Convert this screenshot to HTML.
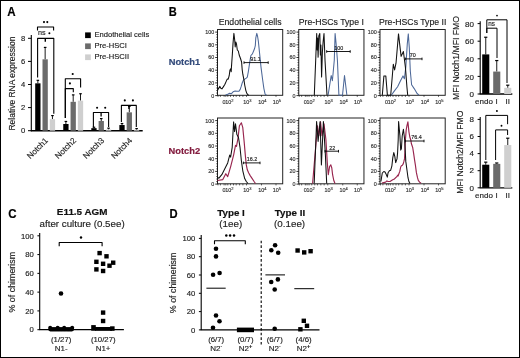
<!DOCTYPE html>
<html><head><meta charset="utf-8"><style>
html,body{margin:0;padding:0;background:#fff;}
#f{position:relative;width:520px;height:358px;overflow:hidden;background:#fff;}
#f svg{position:absolute;left:0;top:0;will-change:transform;}
#f svg text{font-family:"Liberation Sans", sans-serif;}
#bd{position:absolute;left:0;top:0;width:520px;height:358px;box-sizing:border-box;border:1px solid #000;}
</style></head><body><div id="f">
<svg width="520" height="358" viewBox="0 0 520 358">
<text x="0.00" y="0.00" font-size="12.2" text-anchor="start" font-weight="bold" fill="#000" stroke="#000" stroke-width="0.18" transform="translate(7.2,15.6) scale(0.95,1)">A</text>
<text x="0.00" y="0.00" font-size="12.2" text-anchor="start" font-weight="bold" fill="#000" stroke="#000" stroke-width="0.18" transform="translate(168.7,15.7) scale(0.91,1)">B</text>
<text x="0.00" y="0.00" font-size="12.8" text-anchor="start" font-weight="bold" fill="#000" stroke="#000" stroke-width="0.18" transform="translate(8.3,217.7) scale(0.9,1)">C</text>
<text x="0.00" y="0.00" font-size="12.2" text-anchor="start" font-weight="bold" fill="#000" stroke="#000" stroke-width="0.18" transform="translate(169.6,218) scale(0.92,1)">D</text>
<line x1="31.30" y1="35.00" x2="31.30" y2="131.30" stroke="#000" stroke-width="1.1" />
<line x1="28.00" y1="130.70" x2="31.30" y2="130.70" stroke="#000" stroke-width="1" />
<text x="25.20" y="133.40" font-size="7.6" text-anchor="end" font-weight="normal" fill="#222" stroke="#222" stroke-width="0.15" >0</text>
<line x1="28.00" y1="107.60" x2="31.30" y2="107.60" stroke="#000" stroke-width="1" />
<text x="25.20" y="110.30" font-size="7.6" text-anchor="end" font-weight="normal" fill="#222" stroke="#222" stroke-width="0.15" >2</text>
<line x1="28.00" y1="84.50" x2="31.30" y2="84.50" stroke="#000" stroke-width="1" />
<text x="25.20" y="87.20" font-size="7.6" text-anchor="end" font-weight="normal" fill="#222" stroke="#222" stroke-width="0.15" >4</text>
<line x1="28.00" y1="61.40" x2="31.30" y2="61.40" stroke="#000" stroke-width="1" />
<text x="25.20" y="64.10" font-size="7.6" text-anchor="end" font-weight="normal" fill="#222" stroke="#222" stroke-width="0.15" >6</text>
<line x1="28.00" y1="38.30" x2="31.30" y2="38.30" stroke="#000" stroke-width="1" />
<text x="25.20" y="41.00" font-size="7.6" text-anchor="end" font-weight="normal" fill="#222" stroke="#222" stroke-width="0.15" >8</text>
<line x1="30.80" y1="130.70" x2="142.70" y2="130.70" stroke="#000" stroke-width="1.4" />
<text x="0.00" y="0.00" font-size="8.5" text-anchor="middle" font-weight="normal" fill="#222" stroke="#222" stroke-width="0.15" transform="translate(14.6,83.6) rotate(-90)">Relative RNA expression</text>
<line x1="37.85" y1="80.34" x2="37.85" y2="83.34" stroke="#000" stroke-width="0.9" />
<line x1="36.55" y1="80.34" x2="39.15" y2="80.34" stroke="#000" stroke-width="1.2" />
<rect x="35.20" y="83.34" width="5.30" height="47.35" fill="#000" />
<line x1="45.15" y1="47.42" x2="45.15" y2="59.32" stroke="#000" stroke-width="0.9" />
<line x1="43.85" y1="47.42" x2="46.45" y2="47.42" stroke="#000" stroke-width="1.2" />
<rect x="42.50" y="59.32" width="5.30" height="71.38" fill="#6b6b6b" />
<line x1="52.45" y1="115.57" x2="52.45" y2="119.15" stroke="#000" stroke-width="0.9" />
<line x1="51.15" y1="115.57" x2="53.75" y2="115.57" stroke="#000" stroke-width="1.2" />
<rect x="49.80" y="119.15" width="5.30" height="11.55" fill="#cfcfcf" />
<text x="0.00" y="0.00" font-size="8.2" text-anchor="end" font-weight="normal" fill="#222" stroke="#222" stroke-width="0.15" transform="translate(48.60,141) rotate(-45)">Notch1</text>
<line x1="65.90" y1="121.46" x2="65.90" y2="124.00" stroke="#000" stroke-width="0.9" />
<line x1="64.60" y1="121.46" x2="67.20" y2="121.46" stroke="#000" stroke-width="1.2" />
<rect x="63.25" y="124.00" width="5.30" height="6.70" fill="#000" />
<line x1="73.20" y1="94.89" x2="73.20" y2="101.82" stroke="#000" stroke-width="0.9" />
<line x1="71.90" y1="94.89" x2="74.50" y2="94.89" stroke="#000" stroke-width="1.2" />
<rect x="70.55" y="101.82" width="5.30" height="28.88" fill="#6b6b6b" />
<line x1="80.50" y1="93.74" x2="80.50" y2="100.67" stroke="#000" stroke-width="0.9" />
<line x1="79.20" y1="93.74" x2="81.80" y2="93.74" stroke="#000" stroke-width="1.2" />
<rect x="77.85" y="100.67" width="5.30" height="30.03" fill="#cfcfcf" />
<text x="0.00" y="0.00" font-size="8.2" text-anchor="end" font-weight="normal" fill="#222" stroke="#222" stroke-width="0.15" transform="translate(76.65,141) rotate(-45)">Notch2</text>
<line x1="93.95" y1="127.23" x2="93.95" y2="128.16" stroke="#000" stroke-width="0.9" />
<line x1="92.65" y1="127.23" x2="95.25" y2="127.23" stroke="#000" stroke-width="1.2" />
<rect x="91.30" y="128.16" width="5.30" height="2.54" fill="#000" />
<line x1="101.25" y1="118.57" x2="101.25" y2="121.00" stroke="#000" stroke-width="0.9" />
<line x1="99.95" y1="118.57" x2="102.55" y2="118.57" stroke="#000" stroke-width="1.2" />
<rect x="98.60" y="121.00" width="5.30" height="9.70" fill="#6b6b6b" />
<line x1="108.55" y1="128.16" x2="108.55" y2="129.54" stroke="#000" stroke-width="0.9" />
<line x1="107.25" y1="128.16" x2="109.85" y2="128.16" stroke="#000" stroke-width="1.2" />
<rect x="105.90" y="129.54" width="5.30" height="1.16" fill="#cfcfcf" />
<text x="0.00" y="0.00" font-size="8.2" text-anchor="end" font-weight="normal" fill="#222" stroke="#222" stroke-width="0.15" transform="translate(104.70,141) rotate(-45)">Notch3</text>
<line x1="122.00" y1="123.54" x2="122.00" y2="125.04" stroke="#000" stroke-width="0.9" />
<line x1="120.70" y1="123.54" x2="123.30" y2="123.54" stroke="#000" stroke-width="1.2" />
<rect x="119.35" y="125.04" width="5.30" height="5.66" fill="#000" />
<line x1="129.30" y1="106.44" x2="129.30" y2="112.34" stroke="#000" stroke-width="0.9" />
<line x1="128.00" y1="106.44" x2="130.60" y2="106.44" stroke="#000" stroke-width="1.2" />
<rect x="126.65" y="112.34" width="5.30" height="18.36" fill="#6b6b6b" />
<line x1="136.60" y1="128.62" x2="136.60" y2="129.78" stroke="#000" stroke-width="0.9" />
<line x1="135.30" y1="128.62" x2="137.90" y2="128.62" stroke="#000" stroke-width="1.2" />
<rect x="133.95" y="129.78" width="5.30" height="0.92" fill="#cfcfcf" />
<text x="0.00" y="0.00" font-size="8.2" text-anchor="end" font-weight="normal" fill="#222" stroke="#222" stroke-width="0.15" transform="translate(132.75,141) rotate(-45)">Notch4</text>
<polyline points="37.50,30.50 37.50,27.00 53.60,27.00 53.60,30.50" fill="none" stroke="#000" stroke-width="1.1" stroke-linejoin="round" />
<circle cx="44.00" cy="22.10" r="1.05" fill="#000"/>
<circle cx="47.30" cy="22.10" r="1.05" fill="#000"/>
<polyline points="37.60,77.50 37.60,38.40 53.80,38.40 53.80,113.70" fill="none" stroke="#000" stroke-width="1.1" stroke-linejoin="round" />
<line x1="45.30" y1="38.40" x2="45.30" y2="41.80" stroke="#000" stroke-width="1.4" />
<text x="38.00" y="34.60" font-size="7.2" text-anchor="start" font-weight="normal" fill="#222" stroke="#222" stroke-width="0.15" >ns</text>
<circle cx="49.40" cy="33.30" r="1.0" fill="#000"/>
<polyline points="65.30,118.00 65.30,78.80 80.60,78.80 80.60,87.60" fill="none" stroke="#000" stroke-width="1.1" stroke-linejoin="round" />
<circle cx="72.70" cy="74.00" r="1.05" fill="#000"/>
<polyline points="65.30,118.00 65.30,88.60 73.30,88.60 73.30,92.20" fill="none" stroke="#000" stroke-width="1.1" stroke-linejoin="round" />
<circle cx="69.90" cy="83.40" r="1.05" fill="#000"/>
<polyline points="93.40,127.00 93.40,112.50 108.60,112.50 108.60,127.00" fill="none" stroke="#000" stroke-width="1.1" stroke-linejoin="round" />
<line x1="101.10" y1="112.50" x2="101.10" y2="116.50" stroke="#000" stroke-width="1.3" />
<circle cx="97.10" cy="107.70" r="1.05" fill="#000"/>
<circle cx="105.20" cy="107.70" r="1.05" fill="#000"/>
<polyline points="121.40,122.00 121.40,105.40 136.30,105.40 136.30,127.00" fill="none" stroke="#000" stroke-width="1.1" stroke-linejoin="round" />
<line x1="128.90" y1="105.40" x2="128.90" y2="109.00" stroke="#000" stroke-width="1.3" />
<circle cx="124.80" cy="100.40" r="1.05" fill="#000"/>
<circle cx="132.90" cy="100.40" r="1.05" fill="#000"/>
<rect x="85.10" y="32.40" width="5.70" height="5.70" fill="#000" />
<text x="94.40" y="37.40" font-size="7.6" text-anchor="start" font-weight="normal" fill="#222" stroke="#222" stroke-width="0.15" >Endothelial cells</text>
<rect x="85.10" y="43.40" width="5.70" height="5.70" fill="#6b6b6b" />
<text x="94.40" y="48.40" font-size="7.6" text-anchor="start" font-weight="normal" fill="#222" stroke="#222" stroke-width="0.15" >Pre-HSCI</text>
<rect x="85.10" y="54.40" width="5.70" height="5.70" fill="#cfcfcf" />
<text x="94.40" y="59.40" font-size="7.6" text-anchor="start" font-weight="normal" fill="#222" stroke="#222" stroke-width="0.15" >Pre-HSCII</text>
<text x="168.70" y="65.20" font-size="9.3" text-anchor="start" font-weight="bold" fill="#31497a" stroke="#31497a" stroke-width="0.18" >Notch1</text>
<text x="168.60" y="153.80" font-size="9.3" text-anchor="start" font-weight="bold" fill="#821b3e" stroke="#821b3e" stroke-width="0.18" >Notch2</text>
<text x="250.10" y="25.00" font-size="8.7" text-anchor="middle" font-weight="normal" fill="#222" stroke="#222" stroke-width="0.15" >Endothelial cells</text>
<text x="331.35" y="25.00" font-size="8.7" text-anchor="middle" font-weight="normal" fill="#222" stroke="#222" stroke-width="0.15" >Pre-HSCs Type I</text>
<text x="412.60" y="25.00" font-size="8.7" text-anchor="middle" font-weight="normal" fill="#222" stroke="#222" stroke-width="0.15" >Pre-HSCs Type II</text>
<rect x="217.50" y="29.50" width="65.2" height="65.8" fill="none" stroke="#222" stroke-width="1"/>
<line x1="215.20" y1="32.10" x2="217.50" y2="32.10" stroke="#000" stroke-width="0.8" />
<text x="214.30" y="34.00" font-size="5.4" text-anchor="end" font-weight="normal" fill="#333" stroke="#333" stroke-width="0.15" >100</text>
<line x1="216.20" y1="34.64" x2="217.50" y2="34.64" stroke="#000" stroke-width="0.6" />
<line x1="216.20" y1="37.18" x2="217.50" y2="37.18" stroke="#000" stroke-width="0.6" />
<line x1="216.20" y1="39.72" x2="217.50" y2="39.72" stroke="#000" stroke-width="0.6" />
<line x1="216.20" y1="42.26" x2="217.50" y2="42.26" stroke="#000" stroke-width="0.6" />
<line x1="215.20" y1="44.80" x2="217.50" y2="44.80" stroke="#000" stroke-width="0.8" />
<text x="214.30" y="46.70" font-size="5.4" text-anchor="end" font-weight="normal" fill="#333" stroke="#333" stroke-width="0.15" >80</text>
<line x1="216.20" y1="47.34" x2="217.50" y2="47.34" stroke="#000" stroke-width="0.6" />
<line x1="216.20" y1="49.88" x2="217.50" y2="49.88" stroke="#000" stroke-width="0.6" />
<line x1="216.20" y1="52.42" x2="217.50" y2="52.42" stroke="#000" stroke-width="0.6" />
<line x1="216.20" y1="54.96" x2="217.50" y2="54.96" stroke="#000" stroke-width="0.6" />
<line x1="215.20" y1="57.50" x2="217.50" y2="57.50" stroke="#000" stroke-width="0.8" />
<text x="214.30" y="59.40" font-size="5.4" text-anchor="end" font-weight="normal" fill="#333" stroke="#333" stroke-width="0.15" >60</text>
<line x1="216.20" y1="60.04" x2="217.50" y2="60.04" stroke="#000" stroke-width="0.6" />
<line x1="216.20" y1="62.58" x2="217.50" y2="62.58" stroke="#000" stroke-width="0.6" />
<line x1="216.20" y1="65.12" x2="217.50" y2="65.12" stroke="#000" stroke-width="0.6" />
<line x1="216.20" y1="67.66" x2="217.50" y2="67.66" stroke="#000" stroke-width="0.6" />
<line x1="215.20" y1="70.20" x2="217.50" y2="70.20" stroke="#000" stroke-width="0.8" />
<text x="214.30" y="72.10" font-size="5.4" text-anchor="end" font-weight="normal" fill="#333" stroke="#333" stroke-width="0.15" >40</text>
<line x1="216.20" y1="72.74" x2="217.50" y2="72.74" stroke="#000" stroke-width="0.6" />
<line x1="216.20" y1="75.28" x2="217.50" y2="75.28" stroke="#000" stroke-width="0.6" />
<line x1="216.20" y1="77.82" x2="217.50" y2="77.82" stroke="#000" stroke-width="0.6" />
<line x1="216.20" y1="80.36" x2="217.50" y2="80.36" stroke="#000" stroke-width="0.6" />
<line x1="215.20" y1="82.90" x2="217.50" y2="82.90" stroke="#000" stroke-width="0.8" />
<text x="214.30" y="84.80" font-size="5.4" text-anchor="end" font-weight="normal" fill="#333" stroke="#333" stroke-width="0.15" >20</text>
<line x1="216.20" y1="85.44" x2="217.50" y2="85.44" stroke="#000" stroke-width="0.6" />
<line x1="216.20" y1="87.98" x2="217.50" y2="87.98" stroke="#000" stroke-width="0.6" />
<line x1="216.20" y1="90.52" x2="217.50" y2="90.52" stroke="#000" stroke-width="0.6" />
<line x1="216.20" y1="93.06" x2="217.50" y2="93.06" stroke="#000" stroke-width="0.6" />
<line x1="215.20" y1="95.60" x2="217.50" y2="95.60" stroke="#000" stroke-width="0.8" />
<text x="214.30" y="97.50" font-size="5.4" text-anchor="end" font-weight="normal" fill="#333" stroke="#333" stroke-width="0.15" >0</text>
<line x1="218.00" y1="95.30" x2="218.00" y2="96.90" stroke="#000" stroke-width="0.6" />
<line x1="220.40" y1="95.30" x2="220.40" y2="96.90" stroke="#000" stroke-width="0.6" />
<line x1="224.10" y1="95.30" x2="224.10" y2="96.90" stroke="#000" stroke-width="0.6" />
<line x1="225.80" y1="95.30" x2="225.80" y2="96.90" stroke="#000" stroke-width="0.6" />
<line x1="227.80" y1="95.30" x2="227.80" y2="96.90" stroke="#000" stroke-width="0.6" />
<line x1="230.50" y1="95.30" x2="230.50" y2="96.90" stroke="#000" stroke-width="0.6" />
<line x1="233.50" y1="95.30" x2="233.50" y2="96.90" stroke="#000" stroke-width="0.6" />
<line x1="236.20" y1="95.30" x2="236.20" y2="96.90" stroke="#000" stroke-width="0.6" />
<line x1="239.60" y1="95.30" x2="239.60" y2="96.90" stroke="#000" stroke-width="0.6" />
<line x1="242.90" y1="95.30" x2="242.90" y2="96.90" stroke="#000" stroke-width="0.6" />
<line x1="246.50" y1="95.30" x2="246.50" y2="96.90" stroke="#000" stroke-width="0.6" />
<line x1="261.50" y1="95.30" x2="261.50" y2="96.90" stroke="#000" stroke-width="0.6" />
<line x1="276.00" y1="95.30" x2="276.00" y2="96.90" stroke="#000" stroke-width="0.6" />
<text x="224.10" y="103.90" font-size="5.4" text-anchor="middle" font-weight="normal" fill="#333" stroke="#333" stroke-width="0.15" >0</text>
<text x="229.30" y="103.90" font-size="5.4" text-anchor="middle" font-weight="normal" fill="#333" stroke="#333" stroke-width="0.15" >10<tspan dy="-2.1" font-size="4">2</tspan></text>
<text x="247.30" y="103.90" font-size="5.4" text-anchor="middle" font-weight="normal" fill="#333" stroke="#333" stroke-width="0.15" >10<tspan dy="-2.1" font-size="4">3</tspan></text>
<text x="262.30" y="103.90" font-size="5.4" text-anchor="middle" font-weight="normal" fill="#333" stroke="#333" stroke-width="0.15" >10<tspan dy="-2.1" font-size="4">4</tspan></text>
<text x="276.80" y="103.90" font-size="5.4" text-anchor="middle" font-weight="normal" fill="#333" stroke="#333" stroke-width="0.15" >10<tspan dy="-2.1" font-size="4">5</tspan></text>
<rect x="298.75" y="29.50" width="65.2" height="65.8" fill="none" stroke="#222" stroke-width="1"/>
<line x1="296.45" y1="32.10" x2="298.75" y2="32.10" stroke="#000" stroke-width="0.8" />
<text x="295.55" y="34.00" font-size="5.4" text-anchor="end" font-weight="normal" fill="#333" stroke="#333" stroke-width="0.15" >100</text>
<line x1="297.45" y1="34.64" x2="298.75" y2="34.64" stroke="#000" stroke-width="0.6" />
<line x1="297.45" y1="37.18" x2="298.75" y2="37.18" stroke="#000" stroke-width="0.6" />
<line x1="297.45" y1="39.72" x2="298.75" y2="39.72" stroke="#000" stroke-width="0.6" />
<line x1="297.45" y1="42.26" x2="298.75" y2="42.26" stroke="#000" stroke-width="0.6" />
<line x1="296.45" y1="44.80" x2="298.75" y2="44.80" stroke="#000" stroke-width="0.8" />
<text x="295.55" y="46.70" font-size="5.4" text-anchor="end" font-weight="normal" fill="#333" stroke="#333" stroke-width="0.15" >80</text>
<line x1="297.45" y1="47.34" x2="298.75" y2="47.34" stroke="#000" stroke-width="0.6" />
<line x1="297.45" y1="49.88" x2="298.75" y2="49.88" stroke="#000" stroke-width="0.6" />
<line x1="297.45" y1="52.42" x2="298.75" y2="52.42" stroke="#000" stroke-width="0.6" />
<line x1="297.45" y1="54.96" x2="298.75" y2="54.96" stroke="#000" stroke-width="0.6" />
<line x1="296.45" y1="57.50" x2="298.75" y2="57.50" stroke="#000" stroke-width="0.8" />
<text x="295.55" y="59.40" font-size="5.4" text-anchor="end" font-weight="normal" fill="#333" stroke="#333" stroke-width="0.15" >60</text>
<line x1="297.45" y1="60.04" x2="298.75" y2="60.04" stroke="#000" stroke-width="0.6" />
<line x1="297.45" y1="62.58" x2="298.75" y2="62.58" stroke="#000" stroke-width="0.6" />
<line x1="297.45" y1="65.12" x2="298.75" y2="65.12" stroke="#000" stroke-width="0.6" />
<line x1="297.45" y1="67.66" x2="298.75" y2="67.66" stroke="#000" stroke-width="0.6" />
<line x1="296.45" y1="70.20" x2="298.75" y2="70.20" stroke="#000" stroke-width="0.8" />
<text x="295.55" y="72.10" font-size="5.4" text-anchor="end" font-weight="normal" fill="#333" stroke="#333" stroke-width="0.15" >40</text>
<line x1="297.45" y1="72.74" x2="298.75" y2="72.74" stroke="#000" stroke-width="0.6" />
<line x1="297.45" y1="75.28" x2="298.75" y2="75.28" stroke="#000" stroke-width="0.6" />
<line x1="297.45" y1="77.82" x2="298.75" y2="77.82" stroke="#000" stroke-width="0.6" />
<line x1="297.45" y1="80.36" x2="298.75" y2="80.36" stroke="#000" stroke-width="0.6" />
<line x1="296.45" y1="82.90" x2="298.75" y2="82.90" stroke="#000" stroke-width="0.8" />
<text x="295.55" y="84.80" font-size="5.4" text-anchor="end" font-weight="normal" fill="#333" stroke="#333" stroke-width="0.15" >20</text>
<line x1="297.45" y1="85.44" x2="298.75" y2="85.44" stroke="#000" stroke-width="0.6" />
<line x1="297.45" y1="87.98" x2="298.75" y2="87.98" stroke="#000" stroke-width="0.6" />
<line x1="297.45" y1="90.52" x2="298.75" y2="90.52" stroke="#000" stroke-width="0.6" />
<line x1="297.45" y1="93.06" x2="298.75" y2="93.06" stroke="#000" stroke-width="0.6" />
<line x1="296.45" y1="95.60" x2="298.75" y2="95.60" stroke="#000" stroke-width="0.8" />
<text x="295.55" y="97.50" font-size="5.4" text-anchor="end" font-weight="normal" fill="#333" stroke="#333" stroke-width="0.15" >0</text>
<line x1="299.25" y1="95.30" x2="299.25" y2="96.90" stroke="#000" stroke-width="0.6" />
<line x1="301.65" y1="95.30" x2="301.65" y2="96.90" stroke="#000" stroke-width="0.6" />
<line x1="305.35" y1="95.30" x2="305.35" y2="96.90" stroke="#000" stroke-width="0.6" />
<line x1="307.05" y1="95.30" x2="307.05" y2="96.90" stroke="#000" stroke-width="0.6" />
<line x1="309.05" y1="95.30" x2="309.05" y2="96.90" stroke="#000" stroke-width="0.6" />
<line x1="311.75" y1="95.30" x2="311.75" y2="96.90" stroke="#000" stroke-width="0.6" />
<line x1="314.75" y1="95.30" x2="314.75" y2="96.90" stroke="#000" stroke-width="0.6" />
<line x1="317.45" y1="95.30" x2="317.45" y2="96.90" stroke="#000" stroke-width="0.6" />
<line x1="320.85" y1="95.30" x2="320.85" y2="96.90" stroke="#000" stroke-width="0.6" />
<line x1="324.15" y1="95.30" x2="324.15" y2="96.90" stroke="#000" stroke-width="0.6" />
<line x1="327.75" y1="95.30" x2="327.75" y2="96.90" stroke="#000" stroke-width="0.6" />
<line x1="342.75" y1="95.30" x2="342.75" y2="96.90" stroke="#000" stroke-width="0.6" />
<line x1="357.25" y1="95.30" x2="357.25" y2="96.90" stroke="#000" stroke-width="0.6" />
<text x="305.35" y="103.90" font-size="5.4" text-anchor="middle" font-weight="normal" fill="#333" stroke="#333" stroke-width="0.15" >0</text>
<text x="310.55" y="103.90" font-size="5.4" text-anchor="middle" font-weight="normal" fill="#333" stroke="#333" stroke-width="0.15" >10<tspan dy="-2.1" font-size="4">2</tspan></text>
<text x="328.55" y="103.90" font-size="5.4" text-anchor="middle" font-weight="normal" fill="#333" stroke="#333" stroke-width="0.15" >10<tspan dy="-2.1" font-size="4">3</tspan></text>
<text x="343.55" y="103.90" font-size="5.4" text-anchor="middle" font-weight="normal" fill="#333" stroke="#333" stroke-width="0.15" >10<tspan dy="-2.1" font-size="4">4</tspan></text>
<text x="358.05" y="103.90" font-size="5.4" text-anchor="middle" font-weight="normal" fill="#333" stroke="#333" stroke-width="0.15" >10<tspan dy="-2.1" font-size="4">5</tspan></text>
<rect x="380.00" y="29.50" width="65.2" height="65.8" fill="none" stroke="#222" stroke-width="1"/>
<line x1="377.70" y1="32.10" x2="380.00" y2="32.10" stroke="#000" stroke-width="0.8" />
<text x="376.80" y="34.00" font-size="5.4" text-anchor="end" font-weight="normal" fill="#333" stroke="#333" stroke-width="0.15" >100</text>
<line x1="378.70" y1="34.64" x2="380.00" y2="34.64" stroke="#000" stroke-width="0.6" />
<line x1="378.70" y1="37.18" x2="380.00" y2="37.18" stroke="#000" stroke-width="0.6" />
<line x1="378.70" y1="39.72" x2="380.00" y2="39.72" stroke="#000" stroke-width="0.6" />
<line x1="378.70" y1="42.26" x2="380.00" y2="42.26" stroke="#000" stroke-width="0.6" />
<line x1="377.70" y1="44.80" x2="380.00" y2="44.80" stroke="#000" stroke-width="0.8" />
<text x="376.80" y="46.70" font-size="5.4" text-anchor="end" font-weight="normal" fill="#333" stroke="#333" stroke-width="0.15" >80</text>
<line x1="378.70" y1="47.34" x2="380.00" y2="47.34" stroke="#000" stroke-width="0.6" />
<line x1="378.70" y1="49.88" x2="380.00" y2="49.88" stroke="#000" stroke-width="0.6" />
<line x1="378.70" y1="52.42" x2="380.00" y2="52.42" stroke="#000" stroke-width="0.6" />
<line x1="378.70" y1="54.96" x2="380.00" y2="54.96" stroke="#000" stroke-width="0.6" />
<line x1="377.70" y1="57.50" x2="380.00" y2="57.50" stroke="#000" stroke-width="0.8" />
<text x="376.80" y="59.40" font-size="5.4" text-anchor="end" font-weight="normal" fill="#333" stroke="#333" stroke-width="0.15" >60</text>
<line x1="378.70" y1="60.04" x2="380.00" y2="60.04" stroke="#000" stroke-width="0.6" />
<line x1="378.70" y1="62.58" x2="380.00" y2="62.58" stroke="#000" stroke-width="0.6" />
<line x1="378.70" y1="65.12" x2="380.00" y2="65.12" stroke="#000" stroke-width="0.6" />
<line x1="378.70" y1="67.66" x2="380.00" y2="67.66" stroke="#000" stroke-width="0.6" />
<line x1="377.70" y1="70.20" x2="380.00" y2="70.20" stroke="#000" stroke-width="0.8" />
<text x="376.80" y="72.10" font-size="5.4" text-anchor="end" font-weight="normal" fill="#333" stroke="#333" stroke-width="0.15" >40</text>
<line x1="378.70" y1="72.74" x2="380.00" y2="72.74" stroke="#000" stroke-width="0.6" />
<line x1="378.70" y1="75.28" x2="380.00" y2="75.28" stroke="#000" stroke-width="0.6" />
<line x1="378.70" y1="77.82" x2="380.00" y2="77.82" stroke="#000" stroke-width="0.6" />
<line x1="378.70" y1="80.36" x2="380.00" y2="80.36" stroke="#000" stroke-width="0.6" />
<line x1="377.70" y1="82.90" x2="380.00" y2="82.90" stroke="#000" stroke-width="0.8" />
<text x="376.80" y="84.80" font-size="5.4" text-anchor="end" font-weight="normal" fill="#333" stroke="#333" stroke-width="0.15" >20</text>
<line x1="378.70" y1="85.44" x2="380.00" y2="85.44" stroke="#000" stroke-width="0.6" />
<line x1="378.70" y1="87.98" x2="380.00" y2="87.98" stroke="#000" stroke-width="0.6" />
<line x1="378.70" y1="90.52" x2="380.00" y2="90.52" stroke="#000" stroke-width="0.6" />
<line x1="378.70" y1="93.06" x2="380.00" y2="93.06" stroke="#000" stroke-width="0.6" />
<line x1="377.70" y1="95.60" x2="380.00" y2="95.60" stroke="#000" stroke-width="0.8" />
<text x="376.80" y="97.50" font-size="5.4" text-anchor="end" font-weight="normal" fill="#333" stroke="#333" stroke-width="0.15" >0</text>
<line x1="380.50" y1="95.30" x2="380.50" y2="96.90" stroke="#000" stroke-width="0.6" />
<line x1="382.90" y1="95.30" x2="382.90" y2="96.90" stroke="#000" stroke-width="0.6" />
<line x1="386.60" y1="95.30" x2="386.60" y2="96.90" stroke="#000" stroke-width="0.6" />
<line x1="388.30" y1="95.30" x2="388.30" y2="96.90" stroke="#000" stroke-width="0.6" />
<line x1="390.30" y1="95.30" x2="390.30" y2="96.90" stroke="#000" stroke-width="0.6" />
<line x1="393.00" y1="95.30" x2="393.00" y2="96.90" stroke="#000" stroke-width="0.6" />
<line x1="396.00" y1="95.30" x2="396.00" y2="96.90" stroke="#000" stroke-width="0.6" />
<line x1="398.70" y1="95.30" x2="398.70" y2="96.90" stroke="#000" stroke-width="0.6" />
<line x1="402.10" y1="95.30" x2="402.10" y2="96.90" stroke="#000" stroke-width="0.6" />
<line x1="405.40" y1="95.30" x2="405.40" y2="96.90" stroke="#000" stroke-width="0.6" />
<line x1="409.00" y1="95.30" x2="409.00" y2="96.90" stroke="#000" stroke-width="0.6" />
<line x1="424.00" y1="95.30" x2="424.00" y2="96.90" stroke="#000" stroke-width="0.6" />
<line x1="438.50" y1="95.30" x2="438.50" y2="96.90" stroke="#000" stroke-width="0.6" />
<text x="386.60" y="103.90" font-size="5.4" text-anchor="middle" font-weight="normal" fill="#333" stroke="#333" stroke-width="0.15" >0</text>
<text x="391.80" y="103.90" font-size="5.4" text-anchor="middle" font-weight="normal" fill="#333" stroke="#333" stroke-width="0.15" >10<tspan dy="-2.1" font-size="4">2</tspan></text>
<text x="409.80" y="103.90" font-size="5.4" text-anchor="middle" font-weight="normal" fill="#333" stroke="#333" stroke-width="0.15" >10<tspan dy="-2.1" font-size="4">3</tspan></text>
<text x="424.80" y="103.90" font-size="5.4" text-anchor="middle" font-weight="normal" fill="#333" stroke="#333" stroke-width="0.15" >10<tspan dy="-2.1" font-size="4">4</tspan></text>
<text x="439.30" y="103.90" font-size="5.4" text-anchor="middle" font-weight="normal" fill="#333" stroke="#333" stroke-width="0.15" >10<tspan dy="-2.1" font-size="4">5</tspan></text>
<rect x="217.50" y="118.00" width="65.2" height="65.8" fill="none" stroke="#222" stroke-width="1"/>
<line x1="215.20" y1="120.60" x2="217.50" y2="120.60" stroke="#000" stroke-width="0.8" />
<text x="214.30" y="122.50" font-size="5.4" text-anchor="end" font-weight="normal" fill="#333" stroke="#333" stroke-width="0.15" >100</text>
<line x1="216.20" y1="123.14" x2="217.50" y2="123.14" stroke="#000" stroke-width="0.6" />
<line x1="216.20" y1="125.68" x2="217.50" y2="125.68" stroke="#000" stroke-width="0.6" />
<line x1="216.20" y1="128.22" x2="217.50" y2="128.22" stroke="#000" stroke-width="0.6" />
<line x1="216.20" y1="130.76" x2="217.50" y2="130.76" stroke="#000" stroke-width="0.6" />
<line x1="215.20" y1="133.30" x2="217.50" y2="133.30" stroke="#000" stroke-width="0.8" />
<text x="214.30" y="135.20" font-size="5.4" text-anchor="end" font-weight="normal" fill="#333" stroke="#333" stroke-width="0.15" >80</text>
<line x1="216.20" y1="135.84" x2="217.50" y2="135.84" stroke="#000" stroke-width="0.6" />
<line x1="216.20" y1="138.38" x2="217.50" y2="138.38" stroke="#000" stroke-width="0.6" />
<line x1="216.20" y1="140.92" x2="217.50" y2="140.92" stroke="#000" stroke-width="0.6" />
<line x1="216.20" y1="143.46" x2="217.50" y2="143.46" stroke="#000" stroke-width="0.6" />
<line x1="215.20" y1="146.00" x2="217.50" y2="146.00" stroke="#000" stroke-width="0.8" />
<text x="214.30" y="147.90" font-size="5.4" text-anchor="end" font-weight="normal" fill="#333" stroke="#333" stroke-width="0.15" >60</text>
<line x1="216.20" y1="148.54" x2="217.50" y2="148.54" stroke="#000" stroke-width="0.6" />
<line x1="216.20" y1="151.08" x2="217.50" y2="151.08" stroke="#000" stroke-width="0.6" />
<line x1="216.20" y1="153.62" x2="217.50" y2="153.62" stroke="#000" stroke-width="0.6" />
<line x1="216.20" y1="156.16" x2="217.50" y2="156.16" stroke="#000" stroke-width="0.6" />
<line x1="215.20" y1="158.70" x2="217.50" y2="158.70" stroke="#000" stroke-width="0.8" />
<text x="214.30" y="160.60" font-size="5.4" text-anchor="end" font-weight="normal" fill="#333" stroke="#333" stroke-width="0.15" >40</text>
<line x1="216.20" y1="161.24" x2="217.50" y2="161.24" stroke="#000" stroke-width="0.6" />
<line x1="216.20" y1="163.78" x2="217.50" y2="163.78" stroke="#000" stroke-width="0.6" />
<line x1="216.20" y1="166.32" x2="217.50" y2="166.32" stroke="#000" stroke-width="0.6" />
<line x1="216.20" y1="168.86" x2="217.50" y2="168.86" stroke="#000" stroke-width="0.6" />
<line x1="215.20" y1="171.40" x2="217.50" y2="171.40" stroke="#000" stroke-width="0.8" />
<text x="214.30" y="173.30" font-size="5.4" text-anchor="end" font-weight="normal" fill="#333" stroke="#333" stroke-width="0.15" >20</text>
<line x1="216.20" y1="173.94" x2="217.50" y2="173.94" stroke="#000" stroke-width="0.6" />
<line x1="216.20" y1="176.48" x2="217.50" y2="176.48" stroke="#000" stroke-width="0.6" />
<line x1="216.20" y1="179.02" x2="217.50" y2="179.02" stroke="#000" stroke-width="0.6" />
<line x1="216.20" y1="181.56" x2="217.50" y2="181.56" stroke="#000" stroke-width="0.6" />
<line x1="215.20" y1="184.10" x2="217.50" y2="184.10" stroke="#000" stroke-width="0.8" />
<text x="214.30" y="186.00" font-size="5.4" text-anchor="end" font-weight="normal" fill="#333" stroke="#333" stroke-width="0.15" >0</text>
<line x1="218.00" y1="183.80" x2="218.00" y2="185.40" stroke="#000" stroke-width="0.6" />
<line x1="220.40" y1="183.80" x2="220.40" y2="185.40" stroke="#000" stroke-width="0.6" />
<line x1="224.10" y1="183.80" x2="224.10" y2="185.40" stroke="#000" stroke-width="0.6" />
<line x1="225.80" y1="183.80" x2="225.80" y2="185.40" stroke="#000" stroke-width="0.6" />
<line x1="227.80" y1="183.80" x2="227.80" y2="185.40" stroke="#000" stroke-width="0.6" />
<line x1="230.50" y1="183.80" x2="230.50" y2="185.40" stroke="#000" stroke-width="0.6" />
<line x1="233.50" y1="183.80" x2="233.50" y2="185.40" stroke="#000" stroke-width="0.6" />
<line x1="236.20" y1="183.80" x2="236.20" y2="185.40" stroke="#000" stroke-width="0.6" />
<line x1="239.60" y1="183.80" x2="239.60" y2="185.40" stroke="#000" stroke-width="0.6" />
<line x1="242.90" y1="183.80" x2="242.90" y2="185.40" stroke="#000" stroke-width="0.6" />
<line x1="246.50" y1="183.80" x2="246.50" y2="185.40" stroke="#000" stroke-width="0.6" />
<line x1="261.50" y1="183.80" x2="261.50" y2="185.40" stroke="#000" stroke-width="0.6" />
<line x1="276.00" y1="183.80" x2="276.00" y2="185.40" stroke="#000" stroke-width="0.6" />
<text x="224.10" y="192.40" font-size="5.4" text-anchor="middle" font-weight="normal" fill="#333" stroke="#333" stroke-width="0.15" >0</text>
<text x="229.30" y="192.40" font-size="5.4" text-anchor="middle" font-weight="normal" fill="#333" stroke="#333" stroke-width="0.15" >10<tspan dy="-2.1" font-size="4">2</tspan></text>
<text x="247.30" y="192.40" font-size="5.4" text-anchor="middle" font-weight="normal" fill="#333" stroke="#333" stroke-width="0.15" >10<tspan dy="-2.1" font-size="4">3</tspan></text>
<text x="262.30" y="192.40" font-size="5.4" text-anchor="middle" font-weight="normal" fill="#333" stroke="#333" stroke-width="0.15" >10<tspan dy="-2.1" font-size="4">4</tspan></text>
<text x="276.80" y="192.40" font-size="5.4" text-anchor="middle" font-weight="normal" fill="#333" stroke="#333" stroke-width="0.15" >10<tspan dy="-2.1" font-size="4">5</tspan></text>
<rect x="298.75" y="118.00" width="65.2" height="65.8" fill="none" stroke="#222" stroke-width="1"/>
<line x1="296.45" y1="120.60" x2="298.75" y2="120.60" stroke="#000" stroke-width="0.8" />
<text x="295.55" y="122.50" font-size="5.4" text-anchor="end" font-weight="normal" fill="#333" stroke="#333" stroke-width="0.15" >100</text>
<line x1="297.45" y1="123.14" x2="298.75" y2="123.14" stroke="#000" stroke-width="0.6" />
<line x1="297.45" y1="125.68" x2="298.75" y2="125.68" stroke="#000" stroke-width="0.6" />
<line x1="297.45" y1="128.22" x2="298.75" y2="128.22" stroke="#000" stroke-width="0.6" />
<line x1="297.45" y1="130.76" x2="298.75" y2="130.76" stroke="#000" stroke-width="0.6" />
<line x1="296.45" y1="133.30" x2="298.75" y2="133.30" stroke="#000" stroke-width="0.8" />
<text x="295.55" y="135.20" font-size="5.4" text-anchor="end" font-weight="normal" fill="#333" stroke="#333" stroke-width="0.15" >80</text>
<line x1="297.45" y1="135.84" x2="298.75" y2="135.84" stroke="#000" stroke-width="0.6" />
<line x1="297.45" y1="138.38" x2="298.75" y2="138.38" stroke="#000" stroke-width="0.6" />
<line x1="297.45" y1="140.92" x2="298.75" y2="140.92" stroke="#000" stroke-width="0.6" />
<line x1="297.45" y1="143.46" x2="298.75" y2="143.46" stroke="#000" stroke-width="0.6" />
<line x1="296.45" y1="146.00" x2="298.75" y2="146.00" stroke="#000" stroke-width="0.8" />
<text x="295.55" y="147.90" font-size="5.4" text-anchor="end" font-weight="normal" fill="#333" stroke="#333" stroke-width="0.15" >60</text>
<line x1="297.45" y1="148.54" x2="298.75" y2="148.54" stroke="#000" stroke-width="0.6" />
<line x1="297.45" y1="151.08" x2="298.75" y2="151.08" stroke="#000" stroke-width="0.6" />
<line x1="297.45" y1="153.62" x2="298.75" y2="153.62" stroke="#000" stroke-width="0.6" />
<line x1="297.45" y1="156.16" x2="298.75" y2="156.16" stroke="#000" stroke-width="0.6" />
<line x1="296.45" y1="158.70" x2="298.75" y2="158.70" stroke="#000" stroke-width="0.8" />
<text x="295.55" y="160.60" font-size="5.4" text-anchor="end" font-weight="normal" fill="#333" stroke="#333" stroke-width="0.15" >40</text>
<line x1="297.45" y1="161.24" x2="298.75" y2="161.24" stroke="#000" stroke-width="0.6" />
<line x1="297.45" y1="163.78" x2="298.75" y2="163.78" stroke="#000" stroke-width="0.6" />
<line x1="297.45" y1="166.32" x2="298.75" y2="166.32" stroke="#000" stroke-width="0.6" />
<line x1="297.45" y1="168.86" x2="298.75" y2="168.86" stroke="#000" stroke-width="0.6" />
<line x1="296.45" y1="171.40" x2="298.75" y2="171.40" stroke="#000" stroke-width="0.8" />
<text x="295.55" y="173.30" font-size="5.4" text-anchor="end" font-weight="normal" fill="#333" stroke="#333" stroke-width="0.15" >20</text>
<line x1="297.45" y1="173.94" x2="298.75" y2="173.94" stroke="#000" stroke-width="0.6" />
<line x1="297.45" y1="176.48" x2="298.75" y2="176.48" stroke="#000" stroke-width="0.6" />
<line x1="297.45" y1="179.02" x2="298.75" y2="179.02" stroke="#000" stroke-width="0.6" />
<line x1="297.45" y1="181.56" x2="298.75" y2="181.56" stroke="#000" stroke-width="0.6" />
<line x1="296.45" y1="184.10" x2="298.75" y2="184.10" stroke="#000" stroke-width="0.8" />
<text x="295.55" y="186.00" font-size="5.4" text-anchor="end" font-weight="normal" fill="#333" stroke="#333" stroke-width="0.15" >0</text>
<line x1="299.25" y1="183.80" x2="299.25" y2="185.40" stroke="#000" stroke-width="0.6" />
<line x1="301.65" y1="183.80" x2="301.65" y2="185.40" stroke="#000" stroke-width="0.6" />
<line x1="305.35" y1="183.80" x2="305.35" y2="185.40" stroke="#000" stroke-width="0.6" />
<line x1="307.05" y1="183.80" x2="307.05" y2="185.40" stroke="#000" stroke-width="0.6" />
<line x1="309.05" y1="183.80" x2="309.05" y2="185.40" stroke="#000" stroke-width="0.6" />
<line x1="311.75" y1="183.80" x2="311.75" y2="185.40" stroke="#000" stroke-width="0.6" />
<line x1="314.75" y1="183.80" x2="314.75" y2="185.40" stroke="#000" stroke-width="0.6" />
<line x1="317.45" y1="183.80" x2="317.45" y2="185.40" stroke="#000" stroke-width="0.6" />
<line x1="320.85" y1="183.80" x2="320.85" y2="185.40" stroke="#000" stroke-width="0.6" />
<line x1="324.15" y1="183.80" x2="324.15" y2="185.40" stroke="#000" stroke-width="0.6" />
<line x1="327.75" y1="183.80" x2="327.75" y2="185.40" stroke="#000" stroke-width="0.6" />
<line x1="342.75" y1="183.80" x2="342.75" y2="185.40" stroke="#000" stroke-width="0.6" />
<line x1="357.25" y1="183.80" x2="357.25" y2="185.40" stroke="#000" stroke-width="0.6" />
<text x="305.35" y="192.40" font-size="5.4" text-anchor="middle" font-weight="normal" fill="#333" stroke="#333" stroke-width="0.15" >0</text>
<text x="310.55" y="192.40" font-size="5.4" text-anchor="middle" font-weight="normal" fill="#333" stroke="#333" stroke-width="0.15" >10<tspan dy="-2.1" font-size="4">2</tspan></text>
<text x="328.55" y="192.40" font-size="5.4" text-anchor="middle" font-weight="normal" fill="#333" stroke="#333" stroke-width="0.15" >10<tspan dy="-2.1" font-size="4">3</tspan></text>
<text x="343.55" y="192.40" font-size="5.4" text-anchor="middle" font-weight="normal" fill="#333" stroke="#333" stroke-width="0.15" >10<tspan dy="-2.1" font-size="4">4</tspan></text>
<text x="358.05" y="192.40" font-size="5.4" text-anchor="middle" font-weight="normal" fill="#333" stroke="#333" stroke-width="0.15" >10<tspan dy="-2.1" font-size="4">5</tspan></text>
<rect x="380.00" y="118.00" width="65.2" height="65.8" fill="none" stroke="#222" stroke-width="1"/>
<line x1="377.70" y1="120.60" x2="380.00" y2="120.60" stroke="#000" stroke-width="0.8" />
<text x="376.80" y="122.50" font-size="5.4" text-anchor="end" font-weight="normal" fill="#333" stroke="#333" stroke-width="0.15" >100</text>
<line x1="378.70" y1="123.14" x2="380.00" y2="123.14" stroke="#000" stroke-width="0.6" />
<line x1="378.70" y1="125.68" x2="380.00" y2="125.68" stroke="#000" stroke-width="0.6" />
<line x1="378.70" y1="128.22" x2="380.00" y2="128.22" stroke="#000" stroke-width="0.6" />
<line x1="378.70" y1="130.76" x2="380.00" y2="130.76" stroke="#000" stroke-width="0.6" />
<line x1="377.70" y1="133.30" x2="380.00" y2="133.30" stroke="#000" stroke-width="0.8" />
<text x="376.80" y="135.20" font-size="5.4" text-anchor="end" font-weight="normal" fill="#333" stroke="#333" stroke-width="0.15" >80</text>
<line x1="378.70" y1="135.84" x2="380.00" y2="135.84" stroke="#000" stroke-width="0.6" />
<line x1="378.70" y1="138.38" x2="380.00" y2="138.38" stroke="#000" stroke-width="0.6" />
<line x1="378.70" y1="140.92" x2="380.00" y2="140.92" stroke="#000" stroke-width="0.6" />
<line x1="378.70" y1="143.46" x2="380.00" y2="143.46" stroke="#000" stroke-width="0.6" />
<line x1="377.70" y1="146.00" x2="380.00" y2="146.00" stroke="#000" stroke-width="0.8" />
<text x="376.80" y="147.90" font-size="5.4" text-anchor="end" font-weight="normal" fill="#333" stroke="#333" stroke-width="0.15" >60</text>
<line x1="378.70" y1="148.54" x2="380.00" y2="148.54" stroke="#000" stroke-width="0.6" />
<line x1="378.70" y1="151.08" x2="380.00" y2="151.08" stroke="#000" stroke-width="0.6" />
<line x1="378.70" y1="153.62" x2="380.00" y2="153.62" stroke="#000" stroke-width="0.6" />
<line x1="378.70" y1="156.16" x2="380.00" y2="156.16" stroke="#000" stroke-width="0.6" />
<line x1="377.70" y1="158.70" x2="380.00" y2="158.70" stroke="#000" stroke-width="0.8" />
<text x="376.80" y="160.60" font-size="5.4" text-anchor="end" font-weight="normal" fill="#333" stroke="#333" stroke-width="0.15" >40</text>
<line x1="378.70" y1="161.24" x2="380.00" y2="161.24" stroke="#000" stroke-width="0.6" />
<line x1="378.70" y1="163.78" x2="380.00" y2="163.78" stroke="#000" stroke-width="0.6" />
<line x1="378.70" y1="166.32" x2="380.00" y2="166.32" stroke="#000" stroke-width="0.6" />
<line x1="378.70" y1="168.86" x2="380.00" y2="168.86" stroke="#000" stroke-width="0.6" />
<line x1="377.70" y1="171.40" x2="380.00" y2="171.40" stroke="#000" stroke-width="0.8" />
<text x="376.80" y="173.30" font-size="5.4" text-anchor="end" font-weight="normal" fill="#333" stroke="#333" stroke-width="0.15" >20</text>
<line x1="378.70" y1="173.94" x2="380.00" y2="173.94" stroke="#000" stroke-width="0.6" />
<line x1="378.70" y1="176.48" x2="380.00" y2="176.48" stroke="#000" stroke-width="0.6" />
<line x1="378.70" y1="179.02" x2="380.00" y2="179.02" stroke="#000" stroke-width="0.6" />
<line x1="378.70" y1="181.56" x2="380.00" y2="181.56" stroke="#000" stroke-width="0.6" />
<line x1="377.70" y1="184.10" x2="380.00" y2="184.10" stroke="#000" stroke-width="0.8" />
<text x="376.80" y="186.00" font-size="5.4" text-anchor="end" font-weight="normal" fill="#333" stroke="#333" stroke-width="0.15" >0</text>
<line x1="380.50" y1="183.80" x2="380.50" y2="185.40" stroke="#000" stroke-width="0.6" />
<line x1="382.90" y1="183.80" x2="382.90" y2="185.40" stroke="#000" stroke-width="0.6" />
<line x1="386.60" y1="183.80" x2="386.60" y2="185.40" stroke="#000" stroke-width="0.6" />
<line x1="388.30" y1="183.80" x2="388.30" y2="185.40" stroke="#000" stroke-width="0.6" />
<line x1="390.30" y1="183.80" x2="390.30" y2="185.40" stroke="#000" stroke-width="0.6" />
<line x1="393.00" y1="183.80" x2="393.00" y2="185.40" stroke="#000" stroke-width="0.6" />
<line x1="396.00" y1="183.80" x2="396.00" y2="185.40" stroke="#000" stroke-width="0.6" />
<line x1="398.70" y1="183.80" x2="398.70" y2="185.40" stroke="#000" stroke-width="0.6" />
<line x1="402.10" y1="183.80" x2="402.10" y2="185.40" stroke="#000" stroke-width="0.6" />
<line x1="405.40" y1="183.80" x2="405.40" y2="185.40" stroke="#000" stroke-width="0.6" />
<line x1="409.00" y1="183.80" x2="409.00" y2="185.40" stroke="#000" stroke-width="0.6" />
<line x1="424.00" y1="183.80" x2="424.00" y2="185.40" stroke="#000" stroke-width="0.6" />
<line x1="438.50" y1="183.80" x2="438.50" y2="185.40" stroke="#000" stroke-width="0.6" />
<text x="386.60" y="192.40" font-size="5.4" text-anchor="middle" font-weight="normal" fill="#333" stroke="#333" stroke-width="0.15" >0</text>
<text x="391.80" y="192.40" font-size="5.4" text-anchor="middle" font-weight="normal" fill="#333" stroke="#333" stroke-width="0.15" >10<tspan dy="-2.1" font-size="4">2</tspan></text>
<text x="409.80" y="192.40" font-size="5.4" text-anchor="middle" font-weight="normal" fill="#333" stroke="#333" stroke-width="0.15" >10<tspan dy="-2.1" font-size="4">3</tspan></text>
<text x="424.80" y="192.40" font-size="5.4" text-anchor="middle" font-weight="normal" fill="#333" stroke="#333" stroke-width="0.15" >10<tspan dy="-2.1" font-size="4">4</tspan></text>
<text x="439.30" y="192.40" font-size="5.4" text-anchor="middle" font-weight="normal" fill="#333" stroke="#333" stroke-width="0.15" >10<tspan dy="-2.1" font-size="4">5</tspan></text>
<polyline points="225.50,95.10 227.70,94.30 229.70,93.30 231.20,93.80 233.10,91.80 235.10,91.10 237.00,91.30 239.00,91.30 240.20,89.40 241.20,86.40 242.20,83.00 243.40,80.10 244.80,79.10 246.30,78.10 247.30,77.20 248.30,71.80 249.20,65.90 250.00,60.50 250.90,55.50 252.40,53.90 253.40,51.50 254.60,48.50 255.30,45.60 255.80,37.80 256.80,33.40 257.60,36.50 258.40,41.70 259.60,53.40 261.00,67.10 262.50,78.80 263.90,88.60 265.10,94.10 266.50,95.10" fill="none" stroke="#4d6898" stroke-width="1.05" stroke-linejoin="round" />
<polyline points="217.50,90.50 218.00,89.40 219.90,86.40 220.90,88.40 221.90,88.90 223.30,86.90 224.80,84.50 226.30,81.10 227.20,79.10 228.20,79.10 229.20,75.70 229.90,70.30 230.70,68.80 231.20,71.80 231.40,67.90 231.80,62.00 232.30,55.00 233.00,43.60 233.90,33.40 234.70,40.00 235.20,47.00 235.80,42.00 236.50,44.00 237.30,50.00 238.30,51.00 239.20,55.00 240.50,58.50 241.60,62.00 242.20,69.80 242.90,74.70 243.90,79.60 244.80,85.50 245.80,90.30 246.80,93.30 247.80,94.80 249.00,95.20" fill="none" stroke="#111" stroke-width="1.05" stroke-linejoin="round" />
<line x1="244.00" y1="62.60" x2="268.20" y2="62.60" stroke="#000" stroke-width="0.9" />
<line x1="244.00" y1="61.30" x2="244.00" y2="63.90" stroke="#000" stroke-width="0.9" />
<line x1="268.20" y1="61.30" x2="268.20" y2="63.90" stroke="#000" stroke-width="0.9" />
<text x="250.20" y="61.00" font-size="5.4" text-anchor="start" font-weight="normal" fill="#222" stroke="#222" stroke-width="0.15" >91.1</text>
<polyline points="328.10,95.20 331.20,75.50 332.40,80.70 334.30,60.00 335.10,33.50 336.10,43.60 337.40,60.00 338.90,95.20 342.50,95.20 344.50,75.50 346.90,95.20" fill="none" stroke="#4d6898" stroke-width="1.05" stroke-linejoin="round" />
<polyline points="314.30,95.20 315.70,60.00 316.70,33.50 317.20,50.00 317.60,38.00 318.10,57.30 318.80,36.00 319.80,33.50 320.40,55.00 320.90,45.00 321.60,76.90 322.40,52.00 323.10,42.00 324.00,33.50 325.00,60.00 327.00,95.20" fill="none" stroke="#111" stroke-width="1.05" stroke-linejoin="round" />
<line x1="326.70" y1="51.50" x2="350.20" y2="51.50" stroke="#000" stroke-width="0.9" />
<line x1="326.70" y1="50.20" x2="326.70" y2="52.80" stroke="#000" stroke-width="0.9" />
<line x1="350.20" y1="50.20" x2="350.20" y2="52.80" stroke="#000" stroke-width="0.9" />
<text x="334.20" y="49.90" font-size="5.4" text-anchor="start" font-weight="normal" fill="#222" stroke="#222" stroke-width="0.15" >100</text>
<polyline points="391.30,95.20 394.60,90.60 397.60,86.70 400.50,80.80 403.00,75.90 404.40,78.80 405.80,67.10 407.30,43.60 408.30,33.90 409.30,47.60 410.30,71.00 411.60,84.70 414.20,88.60 417.10,93.50 419.00,95.20" fill="none" stroke="#4d6898" stroke-width="1.05" stroke-linejoin="round" />
<polyline points="382.30,95.20 383.90,75.90 385.80,75.90 387.40,95.20 390.70,95.20 393.30,64.20 394.60,70.00 396.00,63.20 398.50,33.90 401.10,56.40 403.40,51.50 405.40,67.10 406.90,86.70 407.70,95.20" fill="none" stroke="#111" stroke-width="1.05" stroke-linejoin="round" />
<line x1="405.40" y1="58.90" x2="422.00" y2="58.90" stroke="#000" stroke-width="0.9" />
<line x1="405.40" y1="57.60" x2="405.40" y2="60.20" stroke="#000" stroke-width="0.9" />
<line x1="422.00" y1="57.60" x2="422.00" y2="60.20" stroke="#000" stroke-width="0.9" />
<text x="409.70" y="57.30" font-size="5.4" text-anchor="start" font-weight="normal" fill="#222" stroke="#222" stroke-width="0.15" >70</text>
<polyline points="217.50,180.50 222.80,179.60 225.80,173.70 227.70,176.60 230.60,166.80 233.60,155.10 235.50,145.30 236.50,146.30 238.10,137.50 239.40,125.80 241.40,122.80 242.80,127.70 244.30,143.40 245.30,155.10 246.30,164.90 247.30,169.80 248.60,172.70 250.20,175.60 252.20,178.60 254.10,181.50 255.50,183.50" fill="none" stroke="#98254e" stroke-width="1.15" stroke-linejoin="round" />
<polyline points="217.50,177.60 218.90,178.20 221.80,174.70 224.80,168.80 227.70,162.90 229.70,155.10 230.60,157.10 232.20,147.30 233.60,121.90 234.60,131.60 235.50,123.80 236.90,134.60 238.50,137.50 240.00,147.30 241.40,161.00 242.80,170.80 244.70,178.60 246.30,181.50 248.00,183.50" fill="none" stroke="#111" stroke-width="1.05" stroke-linejoin="round" />
<line x1="243.40" y1="162.90" x2="260.00" y2="162.90" stroke="#000" stroke-width="0.9" />
<line x1="243.40" y1="161.60" x2="243.40" y2="164.20" stroke="#000" stroke-width="0.9" />
<line x1="260.00" y1="161.60" x2="260.00" y2="164.20" stroke="#000" stroke-width="0.9" />
<text x="246.70" y="161.30" font-size="5.4" text-anchor="start" font-weight="normal" fill="#222" stroke="#222" stroke-width="0.15" >16.2</text>
<polyline points="312.60,183.50 317.50,125.80 318.90,135.60 320.50,121.90 322.00,135.60 324.00,123.80 325.90,139.50 327.30,162.90 328.30,174.70 329.60,166.50 330.80,164.80 331.80,168.00 332.60,174.70 333.80,180.50 335.00,183.50" fill="none" stroke="#98254e" stroke-width="1.15" stroke-linejoin="round" />
<polyline points="314.20,183.50 316.60,121.50 318.10,141.40 320.10,121.50 321.40,164.90 323.40,121.50 325.40,155.10 326.70,183.50" fill="none" stroke="#111" stroke-width="1.05" stroke-linejoin="round" />
<line x1="325.00" y1="151.20" x2="338.50" y2="151.20" stroke="#000" stroke-width="0.9" />
<line x1="325.00" y1="149.90" x2="325.00" y2="152.50" stroke="#000" stroke-width="0.9" />
<line x1="338.50" y1="149.90" x2="338.50" y2="152.50" stroke="#000" stroke-width="0.9" />
<text x="329.30" y="149.60" font-size="5.4" text-anchor="start" font-weight="normal" fill="#222" stroke="#222" stroke-width="0.15" >22</text>
<polyline points="381.90,183.00 385.60,182.10 386.90,180.90 388.10,181.50 390.00,181.50 391.90,180.30 393.20,179.60 394.40,179.00 395.70,177.70 397.00,176.50 397.60,175.20 398.20,175.80 398.80,174.00 399.80,171.40 400.70,167.00 401.40,165.80 402.40,165.20 403.20,163.90 403.90,161.40 404.50,158.90 404.90,152.60 405.10,146.30 405.40,140.00 406.20,130.00 406.90,125.80 407.90,121.90 408.90,131.60 409.80,137.00 410.80,140.00 411.40,143.80 412.70,147.50 413.70,153.80 414.60,160.10 415.40,165.20 416.40,172.70 417.50,177.70 418.30,180.30 419.60,182.10 421.00,183.30" fill="none" stroke="#98254e" stroke-width="1.15" stroke-linejoin="round" />
<polyline points="380.90,181.50 382.30,173.00 383.80,171.50 385.00,172.00 386.30,174.60 387.30,177.10 388.10,172.70 389.40,170.80 390.70,170.20 391.90,165.80 392.80,157.60 393.80,152.60 394.80,156.40 395.70,162.60 397.00,158.90 397.60,152.60 398.20,140.00 398.60,121.50 399.90,135.60 400.70,150.10 401.40,148.80 402.20,136.00 403.40,129.30 404.60,139.00 405.80,161.40 407.00,170.20 408.00,177.70 408.90,181.50 410.00,183.50" fill="none" stroke="#111" stroke-width="1.05" stroke-linejoin="round" />
<line x1="405.40" y1="141.00" x2="424.00" y2="141.00" stroke="#000" stroke-width="0.9" />
<line x1="405.40" y1="139.70" x2="405.40" y2="142.30" stroke="#000" stroke-width="0.9" />
<line x1="424.00" y1="139.70" x2="424.00" y2="142.30" stroke="#000" stroke-width="0.9" />
<text x="411.20" y="139.40" font-size="5.4" text-anchor="start" font-weight="normal" fill="#222" stroke="#222" stroke-width="0.15" >76.4</text>
<line x1="480.20" y1="21.30" x2="480.20" y2="94.00" stroke="#000" stroke-width="1.1" />
<line x1="477.60" y1="94.00" x2="480.20" y2="94.00" stroke="#000" stroke-width="1" />
<text x="474.00" y="97.20" font-size="8" text-anchor="end" font-weight="normal" fill="#222" stroke="#222" stroke-width="0.15" >0</text>
<line x1="477.60" y1="76.40" x2="480.20" y2="76.40" stroke="#000" stroke-width="1" />
<text x="474.00" y="79.60" font-size="8" text-anchor="end" font-weight="normal" fill="#222" stroke="#222" stroke-width="0.15" >20</text>
<line x1="477.60" y1="58.80" x2="480.20" y2="58.80" stroke="#000" stroke-width="1" />
<text x="474.00" y="62.00" font-size="8" text-anchor="end" font-weight="normal" fill="#222" stroke="#222" stroke-width="0.15" >40</text>
<line x1="477.60" y1="41.20" x2="480.20" y2="41.20" stroke="#000" stroke-width="1" />
<text x="474.00" y="44.40" font-size="8" text-anchor="end" font-weight="normal" fill="#222" stroke="#222" stroke-width="0.15" >60</text>
<line x1="477.60" y1="23.60" x2="480.20" y2="23.60" stroke="#000" stroke-width="1" />
<text x="474.00" y="26.80" font-size="8" text-anchor="end" font-weight="normal" fill="#222" stroke="#222" stroke-width="0.15" >80</text>
<line x1="479.70" y1="94.00" x2="512.30" y2="94.00" stroke="#000" stroke-width="1.3" />
<line x1="485.75" y1="37.24" x2="485.75" y2="54.40" stroke="#000" stroke-width="0.9" />
<line x1="484.15" y1="37.24" x2="487.35" y2="37.24" stroke="#000" stroke-width="1.2" />
<rect x="482.20" y="54.40" width="7.10" height="39.60" fill="#000" />
<line x1="496.75" y1="60.56" x2="496.75" y2="71.56" stroke="#000" stroke-width="0.9" />
<line x1="495.15" y1="60.56" x2="498.35" y2="60.56" stroke="#000" stroke-width="1.2" />
<rect x="493.20" y="71.56" width="7.10" height="22.44" fill="#6b6b6b" />
<line x1="507.75" y1="85.20" x2="507.75" y2="87.84" stroke="#000" stroke-width="0.9" />
<line x1="506.15" y1="85.20" x2="509.35" y2="85.20" stroke="#000" stroke-width="1.2" />
<rect x="504.20" y="87.84" width="7.10" height="6.16" fill="#cfcfcf" />
<text x="0.00" y="0.00" font-size="8.7" text-anchor="middle" font-weight="normal" fill="#222" stroke="#222" stroke-width="0.15" transform="translate(458.8,57.9) rotate(-90)">MFI Notch1/MFI FMO</text>
<text x="484.00" y="104.20" font-size="8" text-anchor="middle" font-weight="normal" fill="#222" stroke="#222" stroke-width="0.15" >endo</text>
<text x="496.70" y="104.20" font-size="8" text-anchor="middle" font-weight="normal" fill="#222" stroke="#222" stroke-width="0.15" >I</text>
<text x="507.70" y="104.20" font-size="8" text-anchor="middle" font-weight="normal" fill="#222" stroke="#222" stroke-width="0.15" >II</text>
<polyline points="486.80,33.00 486.80,19.80 507.00,19.80 507.00,83.00" fill="none" stroke="#000" stroke-width="1.0" stroke-linejoin="round" />
<polyline points="486.80,33.00 486.80,28.20 497.00,28.20 497.00,58.00" fill="none" stroke="#000" stroke-width="1.0" stroke-linejoin="round" />
<text x="488.20" y="25.80" font-size="6.3" text-anchor="start" font-weight="normal" fill="#222" stroke="#222" stroke-width="0.15" >ns</text>
<circle cx="497.00" cy="15.60" r="0.85" fill="#000"/>
<line x1="480.20" y1="117.10" x2="480.20" y2="187.80" stroke="#000" stroke-width="1.1" />
<line x1="477.60" y1="187.80" x2="480.20" y2="187.80" stroke="#000" stroke-width="1" />
<text x="474.00" y="190.50" font-size="8" text-anchor="end" font-weight="normal" fill="#222" stroke="#222" stroke-width="0.15" >0</text>
<line x1="477.60" y1="170.70" x2="480.20" y2="170.70" stroke="#000" stroke-width="1" />
<text x="474.00" y="173.40" font-size="8" text-anchor="end" font-weight="normal" fill="#222" stroke="#222" stroke-width="0.15" >2</text>
<line x1="477.60" y1="153.60" x2="480.20" y2="153.60" stroke="#000" stroke-width="1" />
<text x="474.00" y="156.30" font-size="8" text-anchor="end" font-weight="normal" fill="#222" stroke="#222" stroke-width="0.15" >4</text>
<line x1="477.60" y1="136.50" x2="480.20" y2="136.50" stroke="#000" stroke-width="1" />
<text x="474.00" y="139.20" font-size="8" text-anchor="end" font-weight="normal" fill="#222" stroke="#222" stroke-width="0.15" >6</text>
<line x1="477.60" y1="119.40" x2="480.20" y2="119.40" stroke="#000" stroke-width="1" />
<text x="474.00" y="122.10" font-size="8" text-anchor="end" font-weight="normal" fill="#222" stroke="#222" stroke-width="0.15" >8</text>
<line x1="479.70" y1="187.80" x2="512.30" y2="187.80" stroke="#000" stroke-width="1.3" />
<line x1="485.75" y1="162.15" x2="485.75" y2="164.72" stroke="#000" stroke-width="0.9" />
<line x1="484.15" y1="162.15" x2="487.35" y2="162.15" stroke="#000" stroke-width="1.2" />
<rect x="482.20" y="164.72" width="7.10" height="23.09" fill="#000" />
<line x1="496.75" y1="163.00" x2="496.75" y2="163.86" stroke="#000" stroke-width="0.9" />
<line x1="495.15" y1="163.00" x2="498.35" y2="163.00" stroke="#000" stroke-width="1.2" />
<rect x="493.20" y="163.86" width="7.10" height="23.94" fill="#6b6b6b" />
<line x1="507.75" y1="138.21" x2="507.75" y2="145.05" stroke="#000" stroke-width="0.9" />
<line x1="506.15" y1="138.21" x2="509.35" y2="138.21" stroke="#000" stroke-width="1.2" />
<rect x="504.20" y="145.05" width="7.10" height="42.75" fill="#cfcfcf" />
<text x="0.00" y="0.00" font-size="8.6" text-anchor="middle" font-weight="normal" fill="#222" stroke="#222" stroke-width="0.15" transform="translate(463.2,152.1) rotate(-90)">MFI Notch2/MFI FMO</text>
<text x="484.00" y="198.00" font-size="8" text-anchor="middle" font-weight="normal" fill="#222" stroke="#222" stroke-width="0.15" >endo</text>
<text x="496.70" y="198.00" font-size="8" text-anchor="middle" font-weight="normal" fill="#222" stroke="#222" stroke-width="0.15" >I</text>
<text x="507.70" y="198.00" font-size="8" text-anchor="middle" font-weight="normal" fill="#222" stroke="#222" stroke-width="0.15" >II</text>
<polyline points="485.80,160.00 485.80,115.40 507.60,115.40 507.60,124.20" fill="none" stroke="#000" stroke-width="1.0" stroke-linejoin="round" />
<polyline points="495.60,160.00 495.60,129.90 507.60,129.90 507.60,135.00" fill="none" stroke="#000" stroke-width="1.0" stroke-linejoin="round" />
<circle cx="496.90" cy="111.00" r="0.95" fill="#000"/>
<circle cx="501.50" cy="125.70" r="0.95" fill="#000"/>
<text x="82.20" y="215.30" font-size="9.9" text-anchor="middle" font-weight="bold" fill="#111" stroke="#111" stroke-width="0.18" >E11.5 AGM</text>
<text x="82.10" y="227.30" font-size="9.75" text-anchor="middle" font-weight="normal" fill="#222" stroke="#222" stroke-width="0.15" >after culture (0.5ee)</text>
<line x1="39.70" y1="233.00" x2="39.70" y2="329.70" stroke="#000" stroke-width="1.1" />
<line x1="37.40" y1="329.70" x2="39.70" y2="329.70" stroke="#000" stroke-width="1" />
<text x="33.90" y="332.40" font-size="7.7" text-anchor="end" font-weight="normal" fill="#222" stroke="#222" stroke-width="0.15" >0</text>
<line x1="37.40" y1="310.92" x2="39.70" y2="310.92" stroke="#000" stroke-width="1" />
<text x="33.90" y="313.62" font-size="7.7" text-anchor="end" font-weight="normal" fill="#222" stroke="#222" stroke-width="0.15" >20</text>
<line x1="37.40" y1="292.14" x2="39.70" y2="292.14" stroke="#000" stroke-width="1" />
<text x="33.90" y="294.84" font-size="7.7" text-anchor="end" font-weight="normal" fill="#222" stroke="#222" stroke-width="0.15" >40</text>
<line x1="37.40" y1="273.36" x2="39.70" y2="273.36" stroke="#000" stroke-width="1" />
<text x="33.90" y="276.06" font-size="7.7" text-anchor="end" font-weight="normal" fill="#222" stroke="#222" stroke-width="0.15" >60</text>
<line x1="37.40" y1="254.58" x2="39.70" y2="254.58" stroke="#000" stroke-width="1" />
<text x="33.90" y="257.28" font-size="7.7" text-anchor="end" font-weight="normal" fill="#222" stroke="#222" stroke-width="0.15" >80</text>
<line x1="37.40" y1="235.80" x2="39.70" y2="235.80" stroke="#000" stroke-width="1" />
<text x="33.90" y="238.50" font-size="7.7" text-anchor="end" font-weight="normal" fill="#222" stroke="#222" stroke-width="0.15" >100</text>
<line x1="39.20" y1="329.70" x2="123.90" y2="329.70" stroke="#000" stroke-width="1.3" />
<text x="0.00" y="0.00" font-size="8.9" text-anchor="middle" font-weight="normal" fill="#222" stroke="#222" stroke-width="0.15" transform="translate(15,282.2) rotate(-90)">% of chimerism</text>
<polyline points="59.20,246.20 59.20,242.50 102.10,242.50 102.10,246.20" fill="none" stroke="#000" stroke-width="1.1" stroke-linejoin="round" />
<circle cx="81.00" cy="237.50" r="1.2" fill="#000"/>
<circle cx="61.00" cy="293.50" r="2.3" fill="#000"/>
<circle cx="50.40" cy="329.30" r="2.15" fill="#000"/>
<circle cx="51.38" cy="329.30" r="2.15" fill="#000"/>
<circle cx="52.36" cy="329.30" r="2.15" fill="#000"/>
<circle cx="53.34" cy="329.30" r="2.15" fill="#000"/>
<circle cx="54.32" cy="329.30" r="2.15" fill="#000"/>
<circle cx="55.30" cy="329.30" r="2.15" fill="#000"/>
<circle cx="56.28" cy="329.30" r="2.15" fill="#000"/>
<circle cx="57.26" cy="329.30" r="2.15" fill="#000"/>
<circle cx="58.24" cy="329.30" r="2.15" fill="#000"/>
<circle cx="59.22" cy="329.30" r="2.15" fill="#000"/>
<circle cx="60.20" cy="329.30" r="2.15" fill="#000"/>
<circle cx="61.18" cy="329.30" r="2.15" fill="#000"/>
<circle cx="62.16" cy="329.30" r="2.15" fill="#000"/>
<circle cx="63.14" cy="329.30" r="2.15" fill="#000"/>
<circle cx="64.12" cy="329.30" r="2.15" fill="#000"/>
<circle cx="65.10" cy="329.30" r="2.15" fill="#000"/>
<circle cx="66.08" cy="329.30" r="2.15" fill="#000"/>
<circle cx="67.06" cy="329.30" r="2.15" fill="#000"/>
<circle cx="68.04" cy="329.30" r="2.15" fill="#000"/>
<circle cx="69.02" cy="329.30" r="2.15" fill="#000"/>
<circle cx="70.00" cy="329.30" r="2.15" fill="#000"/>
<circle cx="70.98" cy="329.30" r="2.15" fill="#000"/>
<circle cx="71.96" cy="329.30" r="2.15" fill="#000"/>
<circle cx="50.20" cy="327.70" r="2.0" fill="#000"/>
<circle cx="57.70" cy="327.70" r="2.0" fill="#000"/>
<circle cx="64.20" cy="327.70" r="2.0" fill="#000"/>
<circle cx="72.20" cy="327.70" r="2.0" fill="#000"/>
<rect x="97.40" y="250.90" width="4.40" height="4.40" fill="#000" />
<rect x="104.30" y="254.10" width="4.40" height="4.40" fill="#000" />
<rect x="94.20" y="259.60" width="4.40" height="4.40" fill="#000" />
<rect x="100.90" y="261.60" width="4.40" height="4.40" fill="#000" />
<rect x="111.00" y="260.50" width="4.40" height="4.40" fill="#000" />
<rect x="107.30" y="263.50" width="4.40" height="4.40" fill="#000" />
<rect x="94.20" y="267.20" width="4.40" height="4.40" fill="#000" />
<rect x="100.90" y="268.80" width="4.40" height="4.40" fill="#000" />
<rect x="100.90" y="310.40" width="4.40" height="4.40" fill="#000" />
<rect x="100.90" y="318.80" width="4.40" height="4.40" fill="#000" />
<rect x="91.20" y="325.10" width="4.60" height="5.60" fill="#000" />
<rect x="95.00" y="327.00" width="17.00" height="3.80" fill="#000" />
<rect x="110.10" y="326.30" width="4.50" height="4.50" fill="#000" />
<text x="61.20" y="342.30" font-size="7.8" text-anchor="middle" font-weight="normal" fill="#222" stroke="#222" stroke-width="0.15" >(1/27)</text>
<text x="61.30" y="351.00" font-size="8" text-anchor="middle" font-weight="normal" fill="#222" stroke="#222" stroke-width="0.15" >N1-</text>
<text x="103.30" y="342.30" font-size="7.8" text-anchor="middle" font-weight="normal" fill="#222" stroke="#222" stroke-width="0.15" >(10/27)</text>
<text x="103.10" y="351.00" font-size="8" text-anchor="middle" font-weight="normal" fill="#222" stroke="#222" stroke-width="0.15" >N1+</text>
<line x1="201.20" y1="235.00" x2="201.20" y2="329.90" stroke="#000" stroke-width="1.1" />
<line x1="198.90" y1="329.90" x2="201.20" y2="329.90" stroke="#000" stroke-width="1" />
<text x="195.30" y="332.60" font-size="7.7" text-anchor="end" font-weight="normal" fill="#222" stroke="#222" stroke-width="0.15" >0</text>
<line x1="198.90" y1="311.60" x2="201.20" y2="311.60" stroke="#000" stroke-width="1" />
<text x="195.30" y="314.30" font-size="7.7" text-anchor="end" font-weight="normal" fill="#222" stroke="#222" stroke-width="0.15" >20</text>
<line x1="198.90" y1="293.30" x2="201.20" y2="293.30" stroke="#000" stroke-width="1" />
<text x="195.30" y="296.00" font-size="7.7" text-anchor="end" font-weight="normal" fill="#222" stroke="#222" stroke-width="0.15" >40</text>
<line x1="198.90" y1="275.00" x2="201.20" y2="275.00" stroke="#000" stroke-width="1" />
<text x="195.30" y="277.70" font-size="7.7" text-anchor="end" font-weight="normal" fill="#222" stroke="#222" stroke-width="0.15" >60</text>
<line x1="198.90" y1="256.70" x2="201.20" y2="256.70" stroke="#000" stroke-width="1" />
<text x="195.30" y="259.40" font-size="7.7" text-anchor="end" font-weight="normal" fill="#222" stroke="#222" stroke-width="0.15" >80</text>
<line x1="198.90" y1="238.40" x2="201.20" y2="238.40" stroke="#000" stroke-width="1" />
<text x="195.30" y="241.10" font-size="7.7" text-anchor="end" font-weight="normal" fill="#222" stroke="#222" stroke-width="0.15" >100</text>
<line x1="200.70" y1="329.90" x2="319.50" y2="329.90" stroke="#000" stroke-width="1.3" />
<text x="0.00" y="0.00" font-size="8.9" text-anchor="middle" font-weight="normal" fill="#222" stroke="#222" stroke-width="0.15" transform="translate(176.4,282.9) rotate(-90)">% of chimerism</text>
<text x="231.00" y="216.00" font-size="9.8" text-anchor="middle" font-weight="bold" fill="#111" stroke="#111" stroke-width="0.18" >Type I</text>
<text x="230.80" y="227.10" font-size="9.8" text-anchor="middle" font-weight="normal" fill="#222" stroke="#222" stroke-width="0.15" >(1ee)</text>
<text x="290.00" y="216.00" font-size="9.8" text-anchor="middle" font-weight="bold" fill="#111" stroke="#111" stroke-width="0.18" >Type II</text>
<text x="289.60" y="227.40" font-size="9.8" text-anchor="middle" font-weight="normal" fill="#222" stroke="#222" stroke-width="0.15" >(0.1ee)</text>
<polyline points="214.50,244.30 214.50,240.70 245.30,240.70 245.30,244.30" fill="none" stroke="#000" stroke-width="1.1" stroke-linejoin="round" />
<circle cx="226.30" cy="235.60" r="1.25" fill="#000"/>
<circle cx="230.10" cy="235.60" r="1.25" fill="#000"/>
<circle cx="234.00" cy="235.60" r="1.25" fill="#000"/>
<line x1="261.20" y1="240.70" x2="261.20" y2="346.00" stroke="#000" stroke-width="1.1" stroke-dasharray="2.6,2"/>
<circle cx="216.00" cy="248.70" r="2.3" fill="#000"/>
<circle cx="216.00" cy="256.40" r="2.3" fill="#000"/>
<circle cx="213.10" cy="274.80" r="2.3" fill="#000"/>
<circle cx="219.60" cy="273.00" r="2.3" fill="#000"/>
<circle cx="216.00" cy="315.50" r="2.3" fill="#000"/>
<circle cx="219.50" cy="321.20" r="2.3" fill="#000"/>
<circle cx="213.00" cy="327.70" r="2.3" fill="#000"/>
<line x1="206.40" y1="288.20" x2="225.70" y2="288.20" stroke="#000" stroke-width="1" />
<rect x="236.90" y="327.60" width="17.10" height="4.60" fill="#000" />
<circle cx="275.10" cy="245.30" r="2.3" fill="#000"/>
<circle cx="271.30" cy="250.20" r="2.3" fill="#000"/>
<circle cx="278.20" cy="252.80" r="2.3" fill="#000"/>
<circle cx="271.20" cy="282.00" r="2.3" fill="#000"/>
<circle cx="277.90" cy="279.40" r="2.3" fill="#000"/>
<circle cx="274.70" cy="289.50" r="2.3" fill="#000"/>
<circle cx="274.70" cy="328.70" r="2.3" fill="#000"/>
<line x1="265.40" y1="274.90" x2="285.00" y2="274.90" stroke="#000" stroke-width="1" />
<rect x="295.40" y="248.30" width="4.40" height="4.40" fill="#000" />
<rect x="302.00" y="250.20" width="4.40" height="4.40" fill="#000" />
<rect x="308.40" y="249.00" width="4.40" height="4.40" fill="#000" />
<rect x="301.60" y="318.60" width="4.40" height="4.40" fill="#000" />
<rect x="304.80" y="323.60" width="4.40" height="4.40" fill="#000" />
<rect x="298.20" y="327.10" width="4.40" height="4.40" fill="#000" />
<line x1="294.30" y1="288.70" x2="314.20" y2="288.70" stroke="#000" stroke-width="1" />
<text x="216.20" y="342.30" font-size="7.8" text-anchor="middle" font-weight="normal" fill="#222" stroke="#222" stroke-width="0.15" >(6/7)</text>
<text x="216.20" y="351.00" font-size="8" text-anchor="middle" font-weight="normal" fill="#222" stroke="#222" stroke-width="0.15" >N2<tspan dy="-3" font-size="5">-</tspan></text>
<text x="245.50" y="342.30" font-size="7.8" text-anchor="middle" font-weight="normal" fill="#222" stroke="#222" stroke-width="0.15" >(0/7)</text>
<text x="245.50" y="351.00" font-size="8" text-anchor="middle" font-weight="normal" fill="#222" stroke="#222" stroke-width="0.15" >N2<tspan dy="-3" font-size="5.6" font-weight="bold">+</tspan></text>
<text x="274.80" y="342.30" font-size="7.8" text-anchor="middle" font-weight="normal" fill="#222" stroke="#222" stroke-width="0.15" >(6/7)</text>
<text x="274.80" y="351.00" font-size="8" text-anchor="middle" font-weight="normal" fill="#222" stroke="#222" stroke-width="0.15" >N2<tspan dy="-3" font-size="5">-</tspan></text>
<text x="303.60" y="342.30" font-size="7.8" text-anchor="middle" font-weight="normal" fill="#222" stroke="#222" stroke-width="0.15" >(4/6)</text>
<text x="303.60" y="351.00" font-size="8" text-anchor="middle" font-weight="normal" fill="#222" stroke="#222" stroke-width="0.15" >N2<tspan dy="-3" font-size="5.6" font-weight="bold">+</tspan></text>
</svg><div id="bd"></div></div></body></html>
